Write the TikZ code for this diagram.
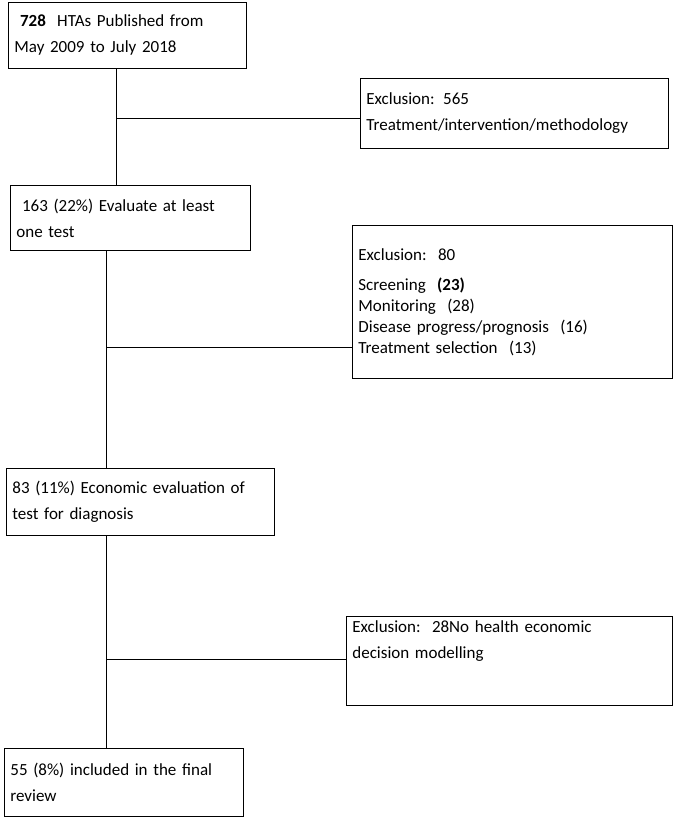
\documentclass[tikz,border=0pt]{standalone}
\usepackage{fontspec}
\setmainfont{Carlito}
\usetikzlibrary{positioning}
\begin{document}
\begin{tikzpicture}[x=1pt,y=-1pt,thick,
  box node/.style={draw,anchor=north west,align=left,inner xsep=6pt,inner ysep=4pt,
  font=\fontsize{17}{26}\selectfont}]
  \useasboundingbox (0,0) rectangle (685,826);
  \node[box node,text width=226pt,minimum height=66pt] (HTA) at (8,2) {\ \textbf{728}\ \ HTAs Published from\\May 2009 to July 2018};
  \node[box node,text width=296pt,minimum height=70pt] (ExA) at (360,78) {Exclusion: 565\\Treatment/intervention/methodology};
  \node[box node,text width=228pt,minimum height=65pt] (Test) at (10,185) {\ 163 (22\%) Evaluate at least\\one test};
  \node[box node,text width=308pt,minimum height=153pt] (ExB) at (352,225) {Exclusion:\ \ 80\\[4pt]Screening\ \ \textbf{(23)}\\[-5pt]Monitoring\ \ (28)\\[-5pt]Disease progress/prognosis\ \ (16)\\[-5pt]Treatment selection\ \ (13)};
  \node[box node,text width=256pt,minimum height=67pt] (Econ) at (6,468) {83 (11\%) Economic evaluation of\\test for diagnosis};
  \node[box node,text width=314pt,minimum height=89pt] (ExC) at (346,616) {\parbox[t][80pt][t]{314pt}{Exclusion:\ \ 28No health economic\\decision modelling}};
  \node[box node,text width=227pt,minimum height=68pt] (Final) at (4,748) {55 (8\%) included in the final\\review};

  \coordinate (j1) at (116,118);
  \coordinate (j2) at (106,347);
  \coordinate (j3) at (106,659);
  \draw (HTA.south -| j1) -- (Test.north -| j1);
  \draw (j1) -- (j1 -| ExA.west);
  \draw (Test.south -| j2) -- (Econ.north -| j2);
  \draw (j2) -- (j2 -| ExB.west);
  \draw (Econ.south -| j3) -- (Final.north -| j3);
  \draw (j3) -- (j3 -| ExC.west);
\end{tikzpicture}
\end{document}
